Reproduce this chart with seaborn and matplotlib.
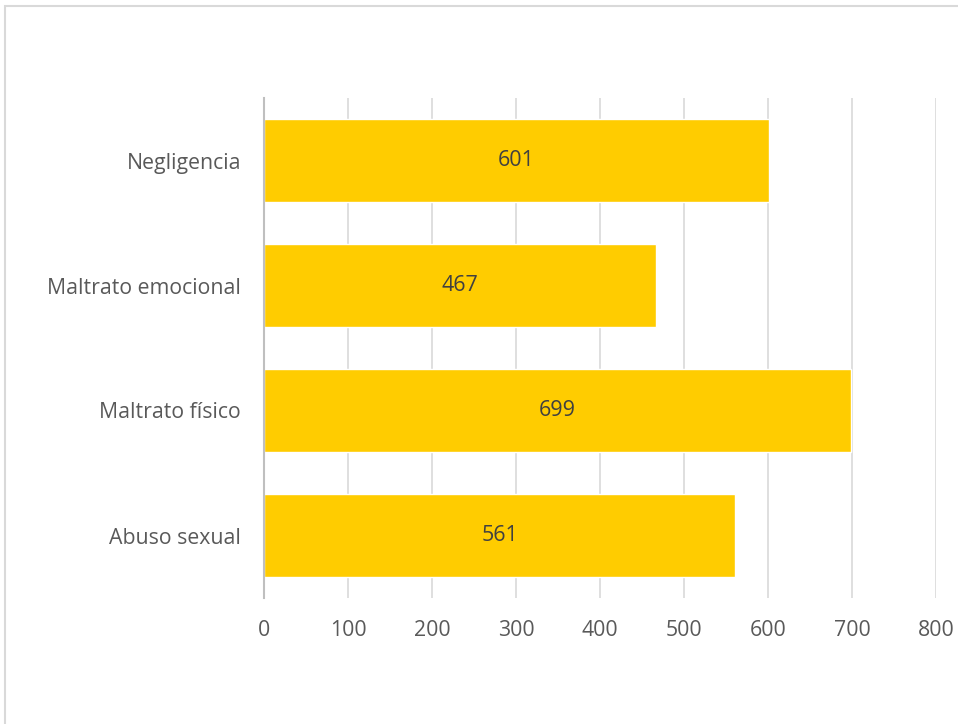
import matplotlib
matplotlib.use("Agg")
import matplotlib.pyplot as plt
import seaborn as sns
import pandas as pd
from matplotlib.patches import Rectangle

categories = ["Negligencia", "Maltrato emocional", "Maltrato físico", "Abuso sexual"]
values = [601, 467, 699, 561]
xticks = [0, 100, 200, 300, 400, 500, 600, 700, 800]

sns.set_theme(style="white")
plt.rcParams["font.family"] = ["Open Sans", "DejaVu Sans"]

df = pd.DataFrame({"tipo": categories, "casos": values})

fig = plt.figure(figsize=(9.58, 7.24), dpi=100)
fig.patches.append(Rectangle((5 / 958, -0.1), 1.0, 1.1 - 6 / 724, transform=fig.transFigure,
                             fill=False, edgecolor="#D9D9D9", linewidth=1.5, zorder=0))
ax = fig.add_axes([264 / 958, 1 - 598 / 724, 672 / 958, 500 / 724])

sns.barplot(data=df, x="casos", y="tipo", color="#FFCC00", saturation=1, width=0.667,
            orient="h", ax=ax, zorder=2)

for patch, v in zip(ax.patches, values):
    ax.text(v / 2, patch.get_y() + patch.get_height() / 2, str(v), ha="center", va="center",
            fontsize=15.5, color="#404040", zorder=3)

ax.set_xlim(0, 800)
ax.set_ylim(3.5, -0.5)
ax.set_xticks(xticks)
ax.grid(axis="x", color="#D9D9D9", linewidth=1.2, zorder=0)
ax.set_axisbelow(True)
for s in ["top", "right", "bottom"]:
    ax.spines[s].set_visible(False)
ax.spines["left"].set_color("#BFBFBF")
ax.spines["left"].set_linewidth(1.5)
ax.tick_params(axis="both", length=0, labelsize=15.3, colors="#595959")
ax.tick_params(axis="x", pad=16)
ax.tick_params(axis="y", pad=16.5)
ax.set_xlabel("")
ax.set_ylabel("")

fig.savefig("out.png", dpi=100)
